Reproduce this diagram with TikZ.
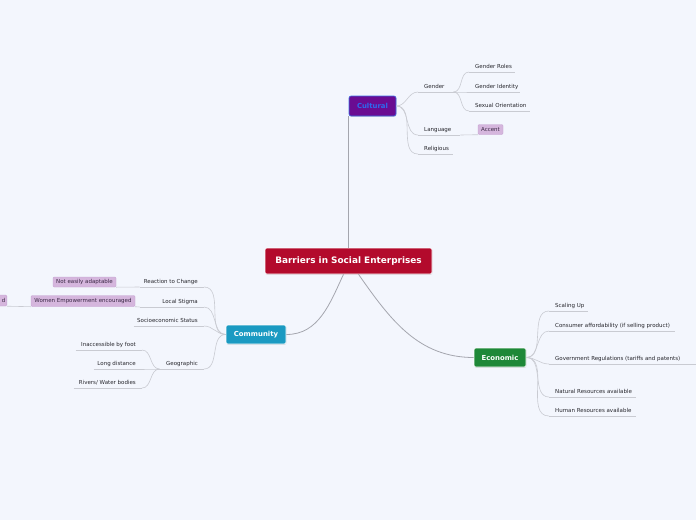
\documentclass[tikz,border=0pt]{standalone}
\usepackage{fontspec}
\setmainfont{DejaVu Sans}
\usetikzlibrary{shadows}
\definecolor{bg}{HTML}{F3F6FD}
\definecolor{txt}{HTML}{26262C}
\definecolor{mainline}{HTML}{A4A6AE}
\definecolor{subline}{HTML}{C9CBD2}
\definecolor{central}{HTML}{B30A2C}
\definecolor{cultfill}{HTML}{6A0C92}
\definecolor{cultborder}{HTML}{3B6FE6}
\definecolor{culttext}{HTML}{2C6BF0}
\definecolor{commfill}{HTML}{1A9AC2}
\definecolor{econfill}{HTML}{1E8838}
\definecolor{tagfill}{HTML}{D5B6DD}
\definecolor{tagborder}{HTML}{C3A0CF}
\definecolor{tagtext}{HTML}{3A2844}
\newcommand{\LL}[2]{\makebox[#1pt][l]{#2}}
\newcommand{\RR}[2]{\makebox[#1pt][r]{#2}}
\begin{document}
\begin{tikzpicture}[x=1pt,y=-1pt,
  mline/.style={draw=mainline,line width=0.8pt},
  conn/.style={draw=subline,line width=0.6pt},
  ul/.style={draw=subline,line width=0.6pt},
  lab/.style={font=\fontsize{5.5}{6.5}\selectfont,text=txt,inner xsep=0pt,inner ysep=2.5pt,text height=4pt,text depth=1.2pt},
  rlab/.style={lab,anchor=south west,append after command={([xshift=-6pt]\tikzlastnode.south west) edge[ul] (\tikzlastnode.south east)}},
  llab/.style={lab,anchor=south east,append after command={(\tikzlastnode.south west) edge[ul] ([xshift=6pt]\tikzlastnode.south east)}},
  branchbox/.style={draw=white,line width=0.6pt,rounded corners=2pt,inner sep=0pt,text=white,
     font=\fontsize{6.9}{8}\selectfont\bfseries,
     drop shadow={shadow xshift=0.4pt,shadow yshift=-0.8pt,opacity=0.25}},
  tagbox/.style={draw=tagborder,line width=0.4pt,fill=tagfill,rounded corners=1.2pt,inner sep=0pt,
     text=tagtext,font=\fontsize{5.5}{6.5}\selectfont,minimum height=10pt}
]
\fill[bg] (0,0) rectangle (696,520);
\useasboundingbox (0,0) rectangle (696,520);

% main nodes
\node[branchbox,fill=central,minimum width=167pt,minimum height=26pt,font=\fontsize{8.9}{10}\selectfont\bfseries] (central) at (348.5,261) {Barriers in Social Enterprises};
\node[branchbox,fill=cultfill,draw=cultborder,text=culttext,minimum width=47pt,minimum height=20pt] (cultural) at (372.5,106) {Cultural};
\node[branchbox,fill=commfill,minimum width=60pt,minimum height=19pt] (community) at (256,334.5) {Community};
\node[branchbox,fill=econfill,minimum width=52pt,minimum height=19pt] (economic) at (500,357.5) {Economic};

% main connectors
\draw[mline] (central.north) -- (central.north |- cultural.south);
\draw[mline] ([xshift=-5pt]central.south) to[out=-115,in=0] (community.east);
\draw[mline] ([xshift=10pt]central.south) to[out=-55,in=180] (economic.west);

% Cultural
\node[rlab] (gender) at (424,92) {\LL{29}{Gender}};
\node[rlab] (language) at (424,135) {\LL{36}{Language}};
\node[rlab] (religious) at (424,154) {\LL{29}{Religious}};
\node[tagbox,minimum width=25pt] (accent) at (490.5,129.5) {Accent};
\node[rlab] (groles) at (475,72) {\LL{40}{Gender Roles}};
\node[rlab] (gident) at (475,92) {\LL{45}{Gender Identity}};
\node[rlab] (sexor) at (475,111) {\LL{55}{Sexual Orientation}};
\foreach \n in {gender,language,religious}
  \draw[conn] (cultural.east) to[out=0,in=180] ([xshift=-6pt]\n.south west);
\foreach \n in {groles,gident,sexor}
  \draw[conn] (gender.south east) to[out=0,in=180] ([xshift=-6pt]\n.south west);
\draw[conn] (language.south east) -- (accent.south west);

% Community
\node[llab] (reaction) at (198,287) {\RR{58}{Reaction to Change}};
\node[llab] (stigma) at (198,307) {\RR{58}{Local Stigma}};
\node[llab] (socio) at (198,326) {\RR{64}{Socioeconomic Status}};
\node[llab] (geo) at (198,369) {\RR{38}{Geographic}};
\node[tagbox,minimum width=63pt] (adapt) at (84.5,282) {Not easily adaptable};
\node[tagbox,minimum width=104pt,minimum height=11pt] (women) at (83,301) {Women Empowerment encouraged};
\node[tagbox,minimum height=11pt,anchor=east,inner xsep=1.5pt] (cut) at (7,300.5) {\RR{30}{d}};
\node[llab] (inacc) at (136,350) {\RR{60}{Inaccessible by foot}};
\node[llab] (longd) at (136,369) {\RR{42}{Long distance}};
\node[llab] (rivers) at (136,388) {\RR{62}{Rivers/ Water bodies}};
\foreach \n in {reaction,stigma,socio,geo}
  \draw[conn] (community.west) to[out=180,in=0] ([xshift=6pt]\n.south east);
\foreach \n in {inacc,longd,rivers}
  \draw[conn] (geo.south west) to[out=180,in=0] ([xshift=6pt]\n.south east);
\draw[conn] (adapt.south east) -- (reaction.south west);
\draw[conn] (women.south east) -- (stigma.south west);
\draw[conn] (cut.south east) -- (women.south west);

% Economic
\node[rlab] (scaling) at (555,311) {\LL{33}{Scaling Up}};
\node[rlab] (consumer) at (555,331) {\LL{120}{Consumer affordability (if selling product)}};
\node[rlab] (govreg) at (555,364) {\LL{129}{Government Regulations (tariffs and patents)}};
\node[rlab] (natres) at (555,397) {\LL{81}{Natural Resources available}};
\node[rlab] (humres) at (555,416) {\LL{81}{Human Resources available}};
\coordinate (govend) at (700,364);
\foreach \n in {scaling,consumer,govreg,natres,humres}
  \draw[conn] (economic.east) to[out=0,in=180] ([xshift=-6pt]\n.south west);
\draw[conn] (govreg.south east) -- (govend);
\end{tikzpicture}
\end{document}
